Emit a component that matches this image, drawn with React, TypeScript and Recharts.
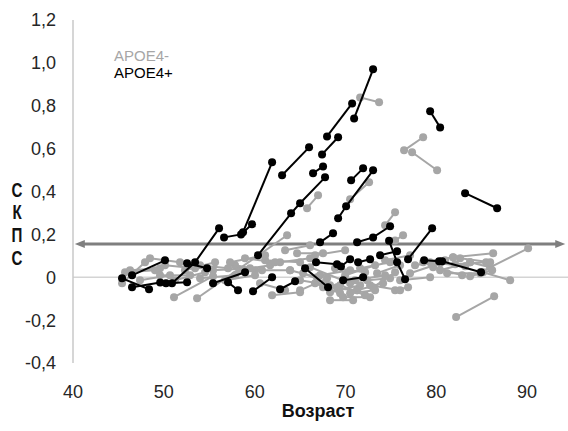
import { ScatterChart, Scatter, XAxis, YAxis, ReferenceLine } from 'recharts';

const xTicks = [40, 50, 60, 70, 80, 90];
const yTicks = [-0.4, -0.2, 0, 0.2, 0.4, 0.6, 0.8, 1.0, 1.2];
const threshold = 0.155;

// APOE4- (gray), each entry is one subject: [age, value] per visit
const apoeNeg: number[][][] = [
    [[71.61, 0.839], [73.7, 0.816]],
    [[76.45, 0.592], [78.55, 0.653]],
    [[77.33, 0.583], [80.09, 0.499]],
    [[82.18, -0.186], [86.37, -0.089]],
    [[84.82, 0.023], [90.11, 0.135]],
    [[85.15, 0.023], [88.13, -0.014]],
    [[65.77, 0.322], [66.98, 0.382]],
    [[70.51, 0.364], [72.6, 0.443]],
    [[74.36, 0.242], [75.46, 0.303]],
    [[75.46, 0.172], [76.34, 0.196]],
    [[53.66, -0.098], [63.57, 0.196]],
    [[51.12, -0.093], [55.42, 0.005]],
    [[78.55, 0.07], [81.85, 0.093]],
    [[81.85, 0.093], [86.26, 0.112]],
    [[79.65, 0.047], [82.84, 0.009]],
    [[81.19, 0.019], [84.82, 0.019]],
    [[83.72, 0.07], [85.93, 0.047]],
    [[77.11, 0.019], [80.42, 0.065]],
    [[76.01, -0.014], [79.32, 0.0]],
    [[75.46, -0.061], [76.89, -0.047]],
    [[82.07, 0.061], [85.48, 0.07]],
    [[79.32, 0.07], [83.17, 0.051]],
    [[80.42, 0.033], [83.72, 0.07]],
    [[82.62, 0.089], [85.93, 0.07]],
    [[77.66, 0.056], [80.97, 0.079]],
    [[83.72, 0.005], [86.15, 0.033]],
    [[64.67, 0.112], [67.53, 0.112]],
    [[63.35, 0.126], [66.1, 0.149]],
    [[66.65, 0.103], [69.96, 0.126]],
    [[63.9, 0.033], [66.87, 0.0]],
    [[65.33, 0.019], [69.07, -0.047]],
    [[66.1, 0.047], [70.51, -0.028]],
    [[65.0, -0.014], [68.3, -0.037]],
    [[67.2, 0.009], [70.51, 0.033]],
    [[67.53, -0.047], [71.28, -0.061]],
    [[68.3, -0.107], [70.84, -0.107]],
    [[69.74, -0.093], [72.71, -0.093]],
    [[69.41, -0.037], [72.16, -0.084]],
    [[68.3, -0.07], [71.61, -0.037]],
    [[72.38, -0.014], [74.91, -0.005]],
    [[71.06, -0.014], [74.36, 0.009]],
    [[71.61, 0.042], [74.91, 0.07]],
    [[71.28, -0.061], [74.14, -0.028]],
    [[72.71, -0.037], [76.01, -0.061]],
    [[73.04, -0.047], [75.46, 0.023]],
    [[65.0, -0.061], [67.97, -0.005]],
    [[73.48, 0.019], [76.01, 0.056]],
    [[61.15, 0.079], [65.0, 0.07]],
    [[62.8, 0.07], [66.1, 0.089]],
    [[60.04, 0.033], [63.9, 0.033]],
    [[58.39, 0.033], [61.7, 0.056]],
    [[58.94, 0.089], [62.25, 0.07]],
    [[57.84, 0.056], [60.81, 0.033]],
    [[55.42, 0.033], [59.49, 0.042]],
    [[53.99, -0.005], [57.84, 0.009]],
    [[56.74, -0.014], [60.04, 0.009]],
    [[57.29, 0.07], [61.15, 0.103]],
    [[60.59, -0.028], [63.35, -0.061]],
    [[61.92, -0.084], [65.0, -0.07]],
    [[68.85, 0.042], [72.16, 0.023]],
    [[69.96, 0.009], [73.26, 0.056]],
    [[66.65, -0.028], [69.41, -0.075]],
    [[70.51, -0.075], [73.26, -0.061]],
    [[74.36, 0.079], [77.11, 0.103]],
    [[45.4, -0.028], [47.93, 0.07]],
    [[45.73, 0.023], [49.03, 0.033]],
    [[46.28, 0.033], [49.58, 0.042]],
    [[47.38, -0.014], [50.68, 0.009]],
    [[48.48, 0.089], [51.78, 0.07]],
    [[49.58, 0.009], [52.89, 0.009]],
    [[50.13, 0.056], [53.44, 0.042]],
    [[51.23, -0.014], [54.54, 0.023]],
    [[52.33, 0.033], [55.64, 0.07]],
    [[53.99, 0.056], [57.07, 0.042]],
];

// APOE4+ (black)
const apoePos: number[][][] = [
    [[70.95, 0.741], [73.04, 0.97]],
    [[67.97, 0.657], [70.73, 0.811]],
    [[67.42, 0.573], [69.19, 0.653]],
    [[63.02, 0.476], [65.99, 0.606]],
    [[58.72, 0.21], [61.92, 0.536]],
    [[56.63, 0.186], [58.5, 0.2], [59.71, 0.247]],
    [[66.43, 0.485], [67.53, 0.517]],
    [[60.37, 0.103], [64.01, 0.298], [65.0, 0.345], [67.75, 0.466]],
    [[70.62, 0.452], [71.94, 0.508]],
    [[69.19, 0.275], [70.07, 0.331], [73.04, 0.499]],
    [[79.32, 0.774], [80.42, 0.699]],
    [[83.17, 0.392], [86.7, 0.322]],
    [[76.89, 0.084], [79.54, 0.228]],
    [[74.8, 0.17], [75.68, 0.07], [76.56, -0.009]],
    [[78.66, 0.079], [80.31, 0.075], [80.64, 0.075], [84.93, 0.023]],
    [[67.2, 0.163], [68.63, 0.205]],
    [[71.28, 0.163], [73.04, 0.186], [74.91, 0.238]],
    [[66.76, 0.07], [69.07, 0.061]],
    [[69.5, 0.05], [70.51, 0.084]],
    [[71.39, 0.07], [72.71, 0.084]],
    [[73.81, 0.103], [75.68, 0.121]],
    [[69.74, -0.014], [71.94, 0.0]],
    [[65.55, 0.042], [68.08, -0.047]],
    [[55.42, -0.028], [58.94, 0.023]],
    [[57.07, -0.023], [58.17, -0.061]],
    [[59.82, -0.065], [61.92, 0.0]],
    [[62.8, -0.056], [64.45, -0.019]],
    [[45.4, -0.005], [48.37, -0.056]],
    [[46.5, 0.009], [50.13, 0.079]],
    [[46.5, -0.047], [49.6, -0.025]],
    [[50.24, -0.028], [52.56, -0.023]],
    [[52.56, 0.065], [54.76, 0.042]],
    [[50.9, -0.028], [53.44, 0.07], [56.08, 0.228]],
];

const GRAY = '#a6a6a6';
const BLACK = '#000000';
const FONT = "'Liberation Sans', Arial, sans-serif";

const toPoints = (seg: number[][]) => seg.map(([x, y]) => ({ x, y }));

const fmtY = (v: number) => (v === 0 ? '0' : v.toFixed(1).replace('.', ','));

const dot = (color: string) => (props: any) => (
    <circle cx={props.cx} cy={props.cy} r={4} fill={color} />
);

const Arrow = (p: any) => {
    const { x1, y1, x2 } = p;
    return (
        <g>
            <line x1={x1 + 8} y1={y1} x2={x2 - 8} y2={y1} stroke="#7f7f7f" strokeWidth={3} />
            <polygon points={`${x1},${y1} ${x1 + 10},${y1 - 4} ${x1 + 10},${y1 + 4}`} fill="#7f7f7f" />
            <polygon points={`${x2},${y1} ${x2 - 10},${y1 - 4} ${x2 - 10},${y1 + 4}`} fill="#7f7f7f" />
        </g>
    );
};

const letters = ['С', 'К', 'П', 'С'];
const letterY = [190, 212, 235, 258];

export default function App() {
    return (
        <div style={{ position: 'absolute', left: 0, top: 0, width: 568, height: 431, background: '#fff', fontFamily: FONT }}>
            <ScatterChart width={568} height={431} margin={{ top: 20, right: 0, bottom: 0, left: 0 }}>
                <XAxis
                    type="number"
                    dataKey="x"
                    domain={[40, 94.5]}
                    ticks={xTicks}
                    allowDataOverflow
                    axisLine={false}
                    tickLine={false}
                    tickSize={0}
                    tickMargin={22}
                    height={68}
                    tick={{ fill: '#262626', fontSize: 18, fontFamily: FONT }}
                />
                <YAxis
                    type="number"
                    dataKey="y"
                    domain={[-0.4, 1.2]}
                    ticks={yTicks}
                    allowDataOverflow
                    width={73}
                    axisLine={{ stroke: '#c8c8c8', strokeWidth: 1.5 }}
                    tickLine={false}
                    tickSize={0}
                    tickMargin={17}
                    tickFormatter={fmtY}
                    tick={{ fill: '#262626', fontSize: 18, fontFamily: FONT }}
                />
                <ReferenceLine y={0} stroke="#d4d4d4" strokeWidth={1.5} />
                {apoeNeg.map((seg, i) => (
                    <Scatter
                        key={'n' + i}
                        data={toPoints(seg)}
                        line={{ stroke: GRAY, strokeWidth: 2 }}
                        shape={dot(GRAY)}
                        isAnimationActive={false}
                    />
                ))}
                <ReferenceLine
                    segment={[{ x: 40.2, y: threshold }, { x: 94.2, y: threshold }]}
                    shape={Arrow}
                />
                {apoePos.map((seg, i) => (
                    <Scatter
                        key={'p' + i}
                        data={toPoints(seg)}
                        line={{ stroke: BLACK, strokeWidth: 2 }}
                        shape={dot(BLACK)}
                        isAnimationActive={false}
                    />
                ))}
            </ScatterChart>
            <div style={{ position: 'absolute', left: 114, top: 48, fontSize: 15, lineHeight: '15px', color: GRAY }}>APOE4-</div>
            <div style={{ position: 'absolute', left: 114, top: 65, fontSize: 15, lineHeight: '15px', color: '#000' }}>APOE4+</div>
            {letters.map((l, i) => (
                <div
                    key={i}
                    style={{
                        position: 'absolute',
                        left: 5,
                        width: 24,
                        textAlign: 'center',
                        top: letterY[i] - 10,
                        fontSize: 21,
                        lineHeight: '20px',
                        fontWeight: 'bold',
                        transform: 'scaleX(0.72)',
                        color: '#111',
                    }}
                >
                    {l}
                </div>
            ))}
            <div style={{ position: 'absolute', left: 218, width: 200, textAlign: 'center', top: 402, fontSize: 18, lineHeight: '18px', fontWeight: 'bold', color: '#111' }}>
                Возраст
            </div>
        </div>
    );
}
